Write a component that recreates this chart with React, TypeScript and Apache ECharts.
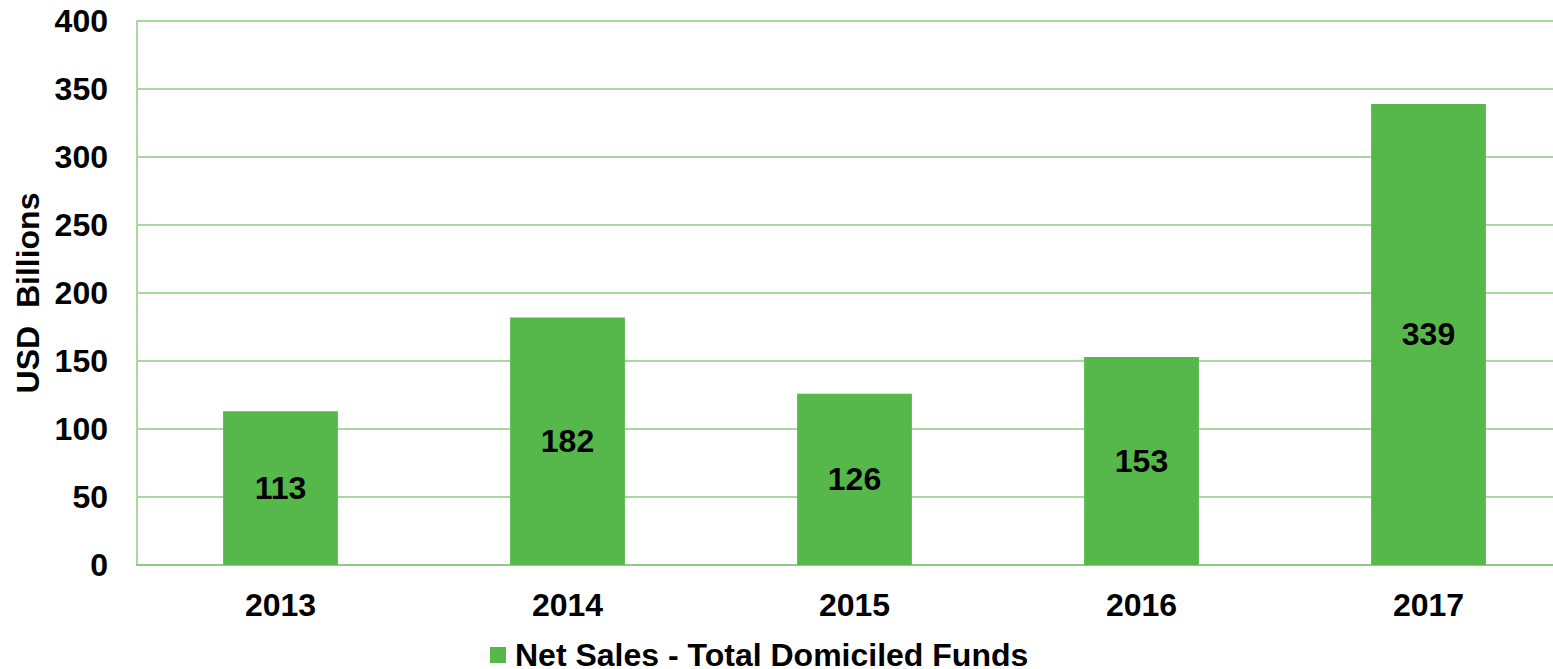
import React, { useEffect, useRef } from "react";
import * as echarts from "echarts";

const categories = ["2013", "2014", "2015", "2016", "2017"];
const netSales = [113, 182, 126, 153, 339];
const seriesName = "Net Sales - Total Domiciled Funds";
const yAxisTitle = "USD  Billions";

const FONT = "'Liberation Sans', Arial, sans-serif";
const FS = 32;

export default function App() {
  const ref = useRef<HTMLDivElement>(null);
  useEffect(() => {
    if (!ref.current) return;
    const chart = echarts.init(ref.current, undefined, { renderer: "svg" });
    chart.setOption({
      animation: false,
      textStyle: { fontFamily: FONT },
      grid: {
        left: 137,
        top: 21,
        bottom: 104,
        right: 0,
        containLabel: false,
        outerBoundsMode: "none",
      },
      legend: {
        data: [seriesName],
        left: 490,
        top: 639,
        icon: "rect",
        itemWidth: 16,
        itemHeight: 16,
        padding: 0,
        textStyle: {
          fontFamily: FONT,
          fontWeight: "bold",
          fontSize: FS,
          lineHeight: 26,
          color: "#000",
          padding: [0, 0, 0, 4],
        },
      },
      xAxis: {
        type: "category",
        data: categories,
        axisLine: { lineStyle: { color: "#8FCB86", width: 2 } },
        axisTick: { show: false },
        axisLabel: {
          fontFamily: FONT,
          fontWeight: "bold",
          fontSize: FS,
          color: "#000",
          margin: 24,
        },
      },
      yAxis: {
        type: "value",
        min: 0,
        max: 400,
        interval: 50,
        name: yAxisTitle,
        nameLocation: "middle",
        nameGap: 90,
        nameTextStyle: {
          fontFamily: FONT,
          fontWeight: "bold",
          fontSize: FS,
          color: "#000",
        },
        axisLine: { show: true, lineStyle: { color: "#A9D9A1", width: 2 } },
        axisTick: { show: false },
        splitLine: { lineStyle: { color: "#A9D9A1", width: 2 } },
        axisLabel: {
          fontFamily: FONT,
          fontWeight: "bold",
          fontSize: FS,
          color: "#000",
          margin: 29,
        },
      },
      series: [
        {
          name: seriesName,
          type: "bar",
          data: netSales,
          barWidth: "40%",
          itemStyle: { color: "#56B84B" },
          label: {
            show: true,
            position: "inside",
            fontFamily: FONT,
            fontWeight: "bold",
            fontSize: FS,
            color: "#000",
          },
        },
      ],
    });
    return () => chart.dispose();
  }, []);
  return (
    <div
      style={{
        position: "fixed",
        left: 0,
        top: 0,
        width: 1553,
        height: 669,
        overflow: "hidden",
        background: "#fff",
      }}
    >
      <div ref={ref} style={{ width: 1572, height: 669 }} />
    </div>
  );
}
